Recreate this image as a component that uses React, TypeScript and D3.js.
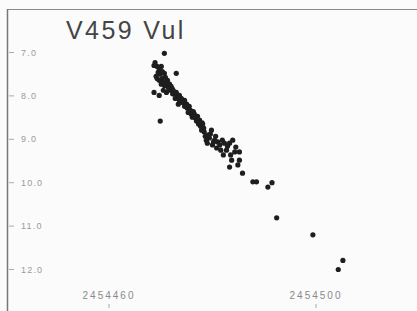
import { useEffect, useRef } from 'react'
import * as d3 from 'd3'

const jd = [
  2454470.7, 2454468.7, 2454468.9, 2454469.3, 2454469.7, 2454470.1, 2454469.5, 2454469.9,
  2454470.3, 2454470.7, 2454469.3, 2454469.7, 2454470.3, 2454470.9, 2454471.3, 2454470.1,
  2454470.7, 2454471.3, 2454471.7, 2454470.5, 2454471.1, 2454471.8, 2454472.2, 2454473.0,
  2454468.7, 2454469.7, 2454469.9,
  2454472.0, 2454472.4, 2454472.6, 2454473.0, 2454473.2, 2454473.6, 2454473.6, 2454474.0,
  2454474.2, 2454474.6, 2454474.6, 2454475.0, 2454475.1, 2454475.5, 2454472.8, 2454473.4,
  2454475.3, 2454475.7, 2454475.9, 2454476.1, 2454476.5, 2454476.7, 2454476.9, 2454477.1,
  2454477.3, 2454477.5, 2454477.7, 2454478.1, 2454477.9, 2454478.3, 2454478.4,
  2454478.6, 2454478.8, 2454479.0, 2454479.4, 2454479.6, 2454479.8, 2454480.0, 2454480.4,
  2454480.6, 2454480.8, 2454481.0, 2454481.4, 2454481.6, 2454481.9, 2454482.3, 2454482.1,
  2454482.7,
  2454482.9, 2454483.3, 2454483.5, 2454483.9, 2454483.7, 2454484.3, 2454484.5, 2454483.3,
  2454485.2, 2454485.2, 2454485.8, 2454484.9,
  2454487.8, 2454488.5, 2454490.7, 2454491.5, 2454492.4, 2454499.4, 2454505.2, 2454504.3,
  // extra points filling the dense early band
  2454469.1, 2454470.5, 2454471.0, 2454471.5, 2454472.3, 2454473.8, 2454474.8, 2454476.3,
  2454477.0, 2454478.0, 2454479.2, 2454480.2,
]
const mag = [
  7.02, 7.30, 7.23, 7.32, 7.37, 7.32, 7.46, 7.50,
  7.44, 7.48, 7.60, 7.64, 7.60, 7.57, 7.64, 7.73,
  7.76, 7.78, 7.73, 7.87, 7.92, 7.87, 7.83, 7.48,
  7.92, 7.99, 8.58,
  7.78, 7.87, 7.96, 7.92, 8.01, 7.99, 8.10, 8.06,
  8.15, 8.10, 8.24, 8.19, 8.28, 8.24, 8.06, 8.19,
  8.38, 8.33, 8.42, 8.49, 8.42, 8.51, 8.58, 8.47,
  8.65, 8.56, 8.70, 8.65, 8.79, 8.74, 8.83,
  8.93, 9.02, 9.09, 8.97, 8.88, 8.79, 9.13, 9.02,
  8.93, 9.20, 9.06, 9.13, 9.25, 9.02, 9.09, 9.36,
  9.25,
  9.16, 9.09, 9.36, 9.02, 9.48, 9.29, 9.18, 9.64,
  9.29, 9.48, 9.78, 9.59,
  9.98, 9.98, 10.10, 10.00, 10.81, 11.20, 11.79, 12.00,
  7.55, 7.68, 7.70, 7.82, 7.95, 8.05, 8.20, 8.36,
  8.55, 8.62, 8.90, 9.06,
]

const magTicks = [7, 8, 9, 10, 11, 12]
const jdTicks = [2454460, 2454500]
const title = 'V459 Vul'

export default function App() {
  const svgRef = useRef(null)

  useEffect(() => {
    if (!svgRef.current) return

    const width = 417
    const height = 311

    d3.select(svgRef.current).selectAll('*').remove()

    const svg = d3
      .select(svgRef.current)
      .attr('width', width)
      .attr('height', height)
      .style('background', '#fbfbfb')

    const x = d3.scaleLinear().domain([2454460, 2454500]).range([109, 316])
    const y = d3.scaleLinear().domain([7, 12]).range([52.5, 269.5])

    // frame (top + left edges only)
    svg
      .append('line')
      .attr('x1', 7)
      .attr('x2', width)
      .attr('y1', 9.5)
      .attr('y2', 9.5)
      .attr('stroke', '#8a8a8a')
      .attr('stroke-width', 1.2)
    svg
      .append('line')
      .attr('x1', 7.5)
      .attr('x2', 7.5)
      .attr('y1', 9)
      .attr('y2', height)
      .attr('stroke', '#777')
      .attr('stroke-width', 1.5)

    // Title
    svg
      .append('text')
      .attr('x', 66)
      .attr('y', 39)
      .style('font-family', 'Liberation Sans, Arial, sans-serif')
      .style('font-size', '25px')
      .style('letter-spacing', '2.4px')
      .style('fill', '#444')
      .text(title)

    // y axis (magnitude, inverted)
    const yAxis = svg.append('g')
    yAxis
      .selectAll('line')
      .data(magTicks)
      .enter()
      .append('line')
      .attr('x1', 9)
      .attr('x2', 14)
      .attr('y1', d => y(d))
      .attr('y2', d => y(d))
      .attr('stroke', '#aaa')
    yAxis
      .selectAll('text')
      .data(magTicks)
      .enter()
      .append('text')
      .attr('x', 21)
      .attr('y', d => y(d))
      .attr('dy', '0.35em')
      .style('font-family', 'Liberation Sans, Arial, sans-serif')
      .style('font-size', '9px')
      .style('letter-spacing', '1.2px')
      .style('fill', '#9a9a9a')
      .text(d => d3.format('.1f')(d))

    // x axis labels
    const xAxis = svg.append('g')
    xAxis
      .selectAll('text')
      .data(jdTicks)
      .enter()
      .append('text')
      .attr('x', d => x(d))
      .attr('y', 299)
      .attr('text-anchor', 'middle')
      .style('font-family', 'Liberation Sans, Arial, sans-serif')
      .style('font-size', '10px')
      .style('letter-spacing', '2px')
      .style('fill', '#8a8a8a')
      .text(d => d)
    xAxis
      .selectAll('line')
      .data(jdTicks)
      .enter()
      .append('line')
      .attr('x1', d => x(d))
      .attr('x2', d => x(d))
      .attr('y1', 304)
      .attr('y2', 308)
      .attr('stroke', '#aaa')

    // points
    svg
      .append('g')
      .selectAll('circle')
      .data(jd.map((d, i) => [d, mag[i]]))
      .enter()
      .append('circle')
      .attr('cx', d => x(d[0]))
      .attr('cy', d => y(d[1]))
      .attr('r', 2.6)
      .attr('fill', '#1e1e1e')
  }, [])

  return (
    <div style={{ position: 'absolute', left: 0, top: 0 }}>
      <svg ref={svgRef} style={{ display: 'block' }}></svg>
    </div>
  )
}
